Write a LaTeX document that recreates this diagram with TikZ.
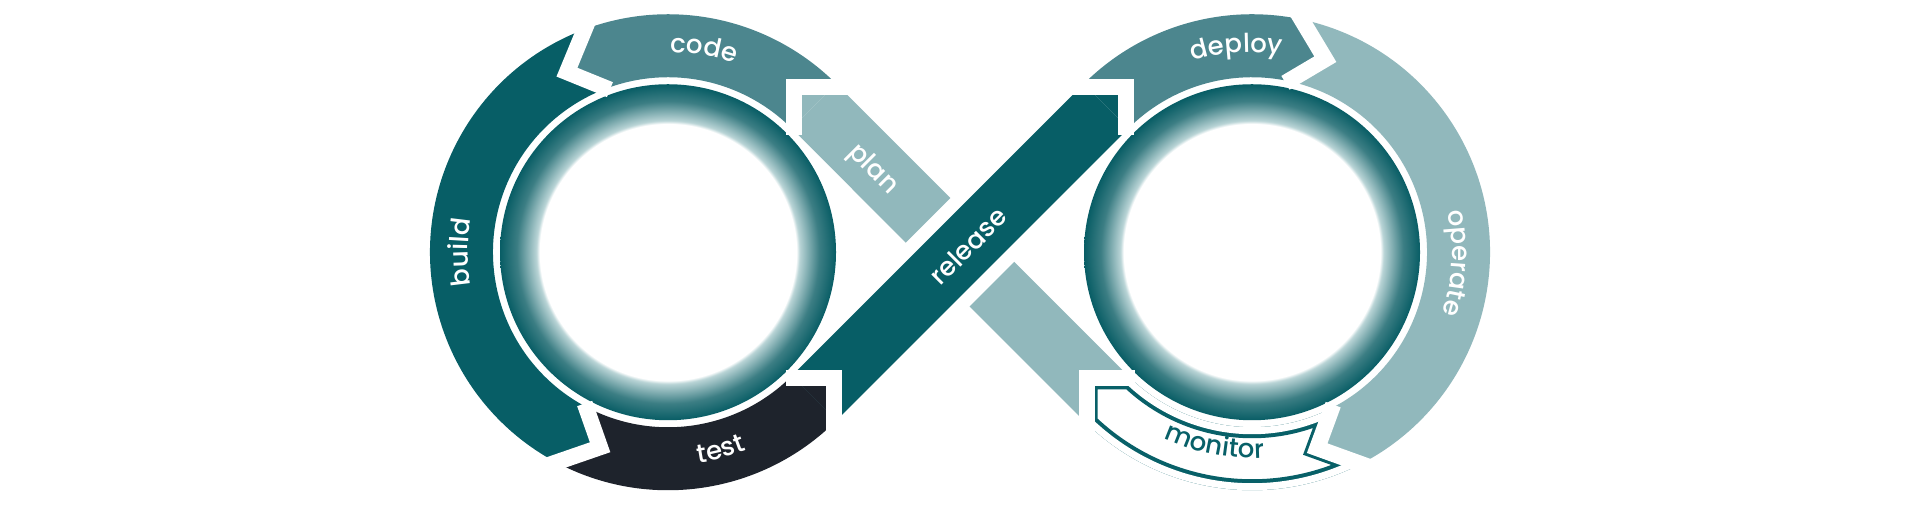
\documentclass[tikz,border=0pt]{standalone}
\usepackage{fontspec}
\usetikzlibrary{calc,decorations.text}
\IfFontExistsTF{Poppins Medium}{\newfontfamily\lab{Poppins Medium}}{\newfontfamily\lab{Poppins}[FakeBold=0.6]}
\definecolor{cDark}{RGB}{7,94,102}
\definecolor{cMid}{RGB}{76,134,142}
\definecolor{cLight}{RGB}{145,184,188}
\definecolor{cTest}{RGB}{30,35,44}
\definecolor{cMon}{RGB}{8,96,104}
\definecolor{ringdark}{RGB}{8,93,101}
\definecolor{ringmid}{RGB}{60,126,132}
\definecolor{ringlight}{RGB}{185,212,214}
\pgfdeclareradialshading{ringshade}{\pgfpoint{0bp}{0bp}}{color(0bp)=(white); color(19.1bp)=(white); color(19.6bp)=(ringlight); color(22.5bp)=(ringmid); color(25bp)=(ringdark); color(50bp)=(ringdark)}
\newcommand\labw{\lab\fontsize{13}{15}\selectfont\color{white}}
\newcommand\labm{\lab\fontsize{13}{15}\selectfont\color{cMon}}
\newcommand\relpoly{(A1) -- (B1) -- (B2) -- (A2) -- cycle}
\newcommand\planpoly{(D1) -- (E2) -- (E1) -- (D2) -- cycle}
\newcommand\monpath{(Pbr) -- ($(C2)+(226.15:175)$) arc[start angle=226.15,end angle=297.2,radius=175] -- (k4t) -- ($(C2)+(297.2:238)$) arc[start angle=297.2,end angle=225.94,radius=238] -- cycle}
\begin{document}
\begin{tikzpicture}[x=0.5pt,y=0.5pt,
  cut/.style={white, line width=8, line join=miter, line cap=butt},
  lbl/.style={inner sep=0pt, font=\lab\fontsize{13}{15}\selectfont, text=white}]
\fill[white] (0,0) rectangle (1920,506);
\useasboundingbox (0,0) rectangle (1920,506);
\coordinate (M) at (960,253.75);
\coordinate (C1) at (668,253.75);
\coordinate (C2) at (1252,253.75);
% band corners
\coordinate (A1) at ($(C1)+(-45:175)$);
\coordinate (A2) at ($(C1)+(-45:238)$);
\coordinate (B1) at ($(C2)+(135:238)$);
\coordinate (B2) at ($(C2)+(135:175)$);
\coordinate (D1) at ($(C1)+(45:175)$);
\coordinate (D2) at ($(C1)+(45:238)$);
\coordinate (E1) at ($(C2)+(225:175)$);
\coordinate (E2) at ($(C2)+(225:238)$);
% L cut corners
\coordinate (Ptl) at ($(M)+(-165.6,165.4)$);
\coordinate (Ptr) at ($(M)+(165.6,165.4)$);
\coordinate (Pbl) at ($(M)+(-126.5,-126.2)$);
\coordinate (Pbr) at ($(M)+(126.5,-126.2)$);
% chevrons: code/build, build/test, deploy/operate, operate/monitor
\coordinate (k1o) at ($(C1)+(110.5:238)$);
\coordinate (k1i) at ($(C1)+(110.5:175)$);
\coordinate (k1t) at ($(C1)+(119.3:206.5)$);
\coordinate (k2o) at ($(C1)+(242:238)$);
\coordinate (k2i) at ($(C1)+(242:175)$);
\coordinate (k2t) at ($(C1)+(250.8:206.5)$);
\coordinate (k3o) at ($(C2)+(78:238)$);
\coordinate (k3i) at ($(C2)+(78:175)$);
\coordinate (k3t) at ($(C2)+(69.2:206.5)$);
\coordinate (k4o) at ($(C2)+(297.2:238)$);
\coordinate (k4i) at ($(C2)+(297.2:175)$);
\coordinate (k4t) at ($(C2)+(288.4:206.5)$);

% gradient rings
\shade[shading=ringshade] (C1) circle[radius=168];
\shade[shading=ringshade] (C2) circle[radius=168];

% plan band
\fill[cLight] \planpoly;
% white margins of release over plan
\draw[white, line width=9] ($(M)+(-74.96,-24.04)$) -- ($(M)+(24.04,74.96)$);
\draw[white, line width=9] ($(M)+(-24.04,-74.96)$) -- ($(M)+(74.96,24.04)$);
% release band
\fill[cDark] \relpoly;
% test
\begin{scope}
\clip (Pbl) rectangle ($(Pbl)+(-500,-500)$);
\fill[cTest] \relpoly;
\fill[cTest] (k2o) arc[start angle=242,end angle=315,radius=238] -- (A1) arc[start angle=315,end angle=242,radius=175] -- (k2t) -- cycle;
\end{scope}
% build
\fill[cDark] (k1o) arc[start angle=110.5,end angle=242,radius=238] -- (k2t) -- (k2i) arc[start angle=242,end angle=110.5,radius=175] -- (k1t) -- cycle;
% code
\begin{scope}
\clip (Ptl) -- ($(Ptl)+(0,-1000)$) -- ($(Ptl)+(-1000,-1000)$) -- ($(Ptl)+(-1000,1000)$) -- ($(Ptl)+(1000,1000)$) -- ($(Ptl)+(1000,0)$) -- cycle;
\fill[cMid] (D2) arc[start angle=45,end angle=110.5,radius=238] -- (k1t) -- (k1i) arc[start angle=110.5,end angle=45,radius=175] -- cycle;
\fill[cMid] \planpoly;
\end{scope}
% plan tip
\begin{scope}
\clip (Ptl) rectangle ($(Ptl)+(500,-500)$);
\fill[cLight] (D2) arc[start angle=45,end angle=85,radius=238] -- ($(C1)+(85:175)$) arc[start angle=85,end angle=45,radius=175] -- cycle;
\end{scope}
% deploy
\begin{scope}
\clip (Ptr) -- ($(Ptr)+(0,-1000)$) -- ($(Ptr)+(1000,-1000)$) -- ($(Ptr)+(1000,1000)$) -- ($(Ptr)+(-1000,1000)$) -- ($(Ptr)+(-1000,0)$) -- cycle;
\fill[cMid] (B1) arc[start angle=135,end angle=78,radius=238] -- (k3t) -- (k3i) arc[start angle=78,end angle=135,radius=175] -- cycle;
\fill[cMid] \relpoly;
\end{scope}
% release tip
\begin{scope}
\clip (Ptr) rectangle ($(Ptr)+(-500,-500)$);
\fill[cDark] (B1) arc[start angle=135,end angle=95,radius=238] -- ($(C2)+(95:175)$) arc[start angle=95,end angle=135,radius=175] -- cycle;
\end{scope}
% operate
\fill[cLight] (k3o) arc[start angle=78,end angle=-62.8,radius=238] -- (k4t) -- (k4i) arc[start angle=-62.8,end angle=78,radius=175] -- (k3t) -- cycle;
% monitor
\begin{scope}
\clip \monpath;
\fill[white] \monpath;
\draw[cMon, line width=11] \monpath;
\draw[white, line width=7] \monpath;
\end{scope}

% white cuts
\draw[cut] ($(Ptl)+(60,0)$) -- (Ptl) -- ($(Ptl)+(0,-48)$);
\draw[cut] ($(Ptr)+(-60,0)$) -- (Ptr) -- ($(Ptr)+(0,-48)$);
\draw[cut] ($(Pbl)+(-48,0)$) -- (Pbl) -- ($(Pbl)+(0,-60)$);
\draw[cut] ($(Pbr)+(48,0)$) -- (Pbr) -- ($(Pbr)+(0,-60)$);
\draw[cut] ($(k1t)!1.2!(k1o)$) -- (k1t) -- ($(k1t)!1.08!(k1i)$);
\draw[cut] ($(k2t)!1.2!(k2o)$) -- (k2t) -- ($(k2t)!1.08!(k2i)$);
\draw[cut] ($(k3t)!1.2!(k3o)$) -- (k3t) -- ($(k3t)!1.08!(k3i)$);
\draw[cut] ($(k4t)!1.2!(k4o)$) -- (k4t) -- ($(k4t)!1.08!(k4i)$);

% labels
\path[decorate, decoration={text along path, text={|\labw|code}, text align=center}] ($(C1)+(110:200)$) arc[start angle=110,end angle=50,radius=200];
\path[decorate, decoration={text along path, text={|\labw|build}, text align=center}] ($(C1)+(210:200)$) arc[start angle=210,end angle=150,radius=200];
\path[decorate, decoration={text along path, text={|\labw|test}, text align=center}] ($(C1)+(254.9:213)$) arc[start angle=254.9,end angle=314.9,radius=213];
\path[decorate, decoration={text along path, text={|\labw|deploy}, text align=center}] ($(C2)+(124.3:200)$) arc[start angle=124.3,end angle=64.3,radius=200];
\path[decorate, decoration={text along path, text={|\labw|operate}, text align=center}] ($(C2)+(27:200)$) arc[start angle=27,end angle=-33,radius=200];
\path[decorate, decoration={text along path, text={|\labm|monitor}, text align=center}] ($(C2)+(229:206)$) arc[start angle=229,end angle=289,radius=206];
\node[lbl, rotate=45] (trel) at (968,260) {release};
\node[lbl, rotate=-45] (tplan) at (872.5,336) {plan};
\end{tikzpicture}
\end{document}
